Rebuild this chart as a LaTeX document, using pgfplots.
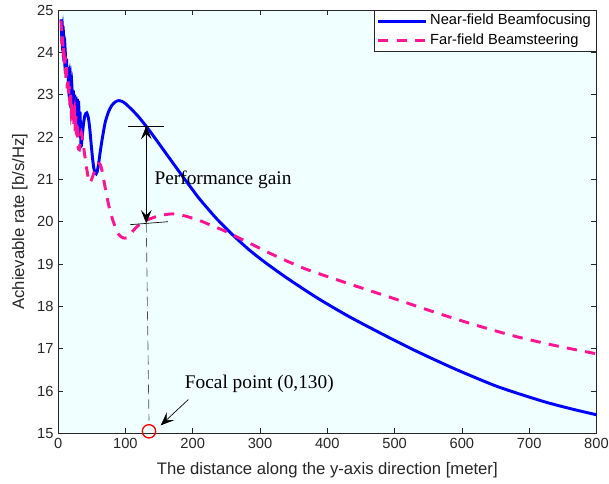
\documentclass[border=0pt]{standalone}
\usepackage{fontspec}
\setmainfont{Liberation Sans}
\newfontfamily\serif{Liberation Serif}
\usepackage{pgfplots}
\pgfplotsset{compat=1.18}
\usetikzlibrary{arrows.meta}
\definecolor{bgcyan}{RGB}{240,255,255}
\definecolor{nearblue}{RGB}{0,0,255}
\definecolor{farpink}{RGB}{255,20,147}
\definecolor{axgray}{RGB}{38,38,38}
\tikzset{>={Stealth[length=10pt,width=8pt,inset=4pt]}}

\begin{document}
\begin{tikzpicture}
\begin{axis}[
  scale only axis, width=403.8pt, height=317.6pt,
  xmin=0, xmax=800, ymin=15, ymax=25,
  xtick={0,100,...,800}, ytick={15,16,...,25},
  tick align=inside, major tick length=4pt,
  axis line style={axgray, line width=0.5pt},
  every tick/.style={axgray, line width=0.5pt},
  /pgf/number format/assume math mode=true,
  tick label style={font=\fontsize{11}{13}\selectfont, text=axgray},
  label style={font=\fontsize{12.5}{15}\selectfont, text=axgray},
  xlabel={The distance along the y-axis direction [meter]},
  ylabel={Achievable rate [b/s/Hz]},
  xlabel style={at={(axis description cs:0.5,-0.086)}, anchor=center},
  ylabel style={at={(axis description cs:-0.071,0.5)}, anchor=center},
  axis background/.style={fill=bgcyan},
  clip=false,
  legend cell align=left,
  legend style={at={(rel axis cs:1,1)}, anchor=north east, draw=axgray,
    line width=0.5pt, fill=white, font=\fontsize{11}{13}\selectfont,
    inner xsep=2pt, inner ysep=1pt, row sep=0pt,
    nodes={inner sep=2pt, text height=8pt, text depth=2.5pt}},
  legend image code/.code={\draw[#1] (0pt,0pt) -- (36pt,0pt);},
]
\addplot[nearblue, line width=2.2pt, smooth, tension=0.4] coordinates {
  (4.5,24.78) (5.5,24.35) (6.5,24.55) (7.5,24.1) (8.5,24.3) (9.5,23.85)
  (10.5,24.05) (11.5,23.6) (12.5,23.85) (13.5,23.4) (14.5,23.65) (15.5,23.2)
  (16.5,23.5) (17.5,23.0) (18.5,23.35) (19.5,22.85) (20.5,23.2) (21.5,22.7)
  (22.5,23.1) (23.5,22.55) (24.5,23.0) (25.5,22.4) (26.5,22.95) (27.5,22.25)
  (28.5,22.9) (29.5,22.1) (30.5,22.85) (31.5,22.0) (32.5,22.6) (34,21.78)
  (36,22.05) (38,22.35) (40,22.52) (42.5,22.57) (45,22.45) (47,22.2)
  (49,21.85) (51,21.52) (53,21.27) (55,21.15) (56.5,21.13) (58,21.18)
  (60,21.35) (63,21.7) (66,22.0) (70,22.35) (75,22.6) (80,22.75) (85,22.83)
  (90,22.86) (95,22.84) (100,22.79) (110,22.64) (120,22.47) (130,22.27)
  (140,22.06) (155,21.73) (170,21.40) (185,21.07) (200,20.75) (210,20.54)
  (235,20.08) (260,19.68) (285,19.32) (310,19.01) (340,18.67) (384,18.21)
  (430,17.78) (480,17.36) (530,16.96) (590,16.52) (654,16.10) (720,15.76)
  (760,15.59) (800,15.44)
};
\addlegendentry{Near-field Beamfocusing}
\addplot[farpink, line width=2.2pt, dash pattern=on 7.7pt off 6.2pt, smooth, tension=0.4] coordinates {
  (4.5,24.75) (5.5,24.2) (6.5,24.45) (7.5,23.9) (8.5,24.15) (9.5,23.65)
  (10.5,23.9) (11.5,23.4) (12.5,23.65) (13.5,23.15) (14.5,23.4) (15.5,22.95)
  (16.5,23.2) (17.5,22.75) (18.5,23.0) (19.5,22.55) (20.5,22.85) (21.5,22.4)
  (22.5,22.75) (23.5,22.25) (24.5,22.6) (25.5,22.1) (26.5,22.5) (27.5,21.95)
  (28.5,22.35) (29.5,21.8) (31.5,21.7) (34.5,22.1) (38,21.75) (42,21.3)
  (46,20.93) (49,20.97) (52,21.1) (56,21.28) (60,21.37) (63,21.34) (66,21.15)
  (70,20.8) (75,20.4) (80,20.1) (85,19.87) (90,19.7) (96,19.62) (102,19.62)
  (108,19.72) (115,19.85) (125,19.98) (135,20.06) (150,20.14) (165,20.18)
  (175,20.18) (190,20.13) (210,20.03) (225,19.93) (245,19.80) (267,19.63)
  (290,19.45) (310,19.29) (340,19.07) (370,18.87) (416,18.62) (450,18.44)
  (500,18.18) (560,17.86) (620,17.56) (680,17.29) (740,17.07) (800,16.88)
};
\addlegendentry{Far-field Beamsteering}
\addplot[only marks, mark=o, mark size=5pt, red, line width=1pt, forget plot]
  coordinates {(135,15.05)};
\draw[black, line width=0.5pt] (axis cs:104,22.26) -- (axis cs:157,22.26);
\draw[black, line width=0.5pt] (axis cs:107,19.93) -- (axis cs:163,20.0);
\draw[black, line width=0.5pt, <->] (axis cs:131,22.26) -- (axis cs:131,19.96);
\draw[black!70, line width=0.5pt, dash pattern=on 7pt off 4pt] (axis cs:131,19.96) -- (axis cs:135,15.3);
\draw[black, line width=0.5pt, ->] (axis cs:193.5,15.80) -- (axis cs:152.4,15.19);
\node[font=\serif\fontsize{14.5}{17}\selectfont] at (axis cs:245,20.98) {Performance gain};
\node[font=\serif\fontsize{14.5}{17}\selectfont] at (axis cs:299,16.16) {Focal point (0,130)};
\end{axis}
\pgfresetboundingbox
\path[use as bounding box] ([shift={(-43.6pt,-37.9pt)}]current axis.south west)
  rectangle ([shift={(9.4pt,7.5pt)}]current axis.north east);
\end{tikzpicture}
\end{document}
